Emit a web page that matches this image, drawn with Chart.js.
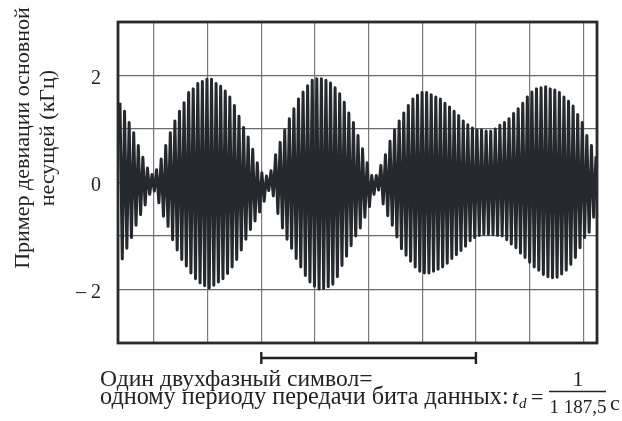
<!DOCTYPE html>
<html>
<head>
<meta charset="utf-8">
<script src="https://cdn.jsdelivr.net/npm/chart.js@4.4.1/dist/chart.umd.min.js"></script>
<style>
  html, body { margin: 0; padding: 0; background: #ffffff; }
  canvas { display: block; }
</style>
</head>
<body>
<canvas id="chart" width="622" height="421"></canvas>
<script>
// Subcarrier deviation, kHz: positive peak of every carrier cycle
const peakDev = [
  1.49, 1.33, 1.12, 0.93, 0.69, 0.47, 0.27, 0.15, 0.24, 0.44, 0.69, 0.93, 1.15, 1.33, 1.49,
  1.68, 1.75, 1.85, 1.89, 1.93, 1.93, 1.85, 1.80, 1.71, 1.60, 1.44, 1.24, 1.03, 0.85, 0.62,
  0.37, 0.18, 0.12, 0.22, 0.52, 0.75, 0.98, 1.19, 1.38, 1.56, 1.69, 1.81, 1.91, 1.94, 1.94,
  1.91, 1.86, 1.77, 1.66, 1.50, 1.30, 1.12, 0.88, 0.63, 0.37, 0.13, 0.13, 0.32, 0.52, 0.77, 0.98,
  1.15, 1.30, 1.44, 1.56, 1.63, 1.68, 1.68, 1.64, 1.60, 1.56, 1.48, 1.41, 1.33, 1.25, 1.15,
  1.08, 1.02, 0.98, 0.98, 0.96, 0.96, 1.00, 1.07, 1.12, 1.19, 1.29, 1.38, 1.48, 1.60,
  1.69, 1.75, 1.77, 1.79, 1.75, 1.73, 1.68, 1.60, 1.52, 1.43, 1.27, 1.12, 0.88, 0.69, 0.49
];

// Negative trough that follows each peak, kHz
const troughDev = [
  -1.43, -1.23, -1.03, -0.80, -0.60, -0.42, -0.22, -0.16, -0.38, -0.63, -0.82, -1.07, -1.26, -1.44, -1.56,
  -1.69, -1.80, -1.88, -1.93, -1.97, -1.92, -1.86, -1.80, -1.70, -1.58, -1.44, -1.26, -1.06, -0.88, -0.72,
  -0.55, -0.35, -0.15, -0.25, -0.58, -0.85, -1.06, -1.23, -1.42, -1.58, -1.74, -1.86, -1.94, -1.99, -1.98,
  -1.95, -1.90, -1.76, -1.55, -1.38, -1.18, -1.00, -0.85, -0.65, -0.45, -0.22, -0.14, -0.40, -0.62, -0.80,
  -1.02, -1.24, -1.36, -1.47, -1.58, -1.66, -1.69, -1.69, -1.66, -1.62, -1.58, -1.51, -1.42, -1.35, -1.27, -1.19,
  -1.09, -1.03, -0.99, -0.97, -0.97, -0.97, -0.99, -1.00, -1.07, -1.15, -1.22, -1.32, -1.40, -1.49, -1.58,
  -1.64, -1.72, -1.76, -1.78, -1.77, -1.71, -1.64, -1.53, -1.40, -1.22, -1.03, -0.93, -0.65
];

// Time axis in quarters of a data bit period (one grid cell each)
const T_START = -0.634;        // time of the first carrier peak
const CARRIER_STEP = 0.08531;  // one carrier cycle
const X_RANGE = [-0.671, 8.257];
const X_GRID = [0, 1, 2, 3, 4, 5, 6, 7, 8];
const BIT_SPAN = [2, 6];       // one biphase symbol = one data bit period

const Y_RANGE = [-3, 3];
const Y_GRID = [-3, -2, -1, 0, 1, 2, 3];
const Y_LABELS = { '2': '2', '0': '0', '-2': '\u2013 2' };

const Y_TITLE = ['Пример девиации основной', 'несущей (кГц)'];
const NOTE = ['Один двухфазный символ=', 'одному периоду передачи бита данных:'];

const SERIF = '"Liberation Serif", "Times New Roman", serif';
const INK = '#222222';

// Zig-zag waveform: peak, trough, peak, trough ...
const wave = [];
peakDev.forEach((p, i) => {
  wave.push({ x: T_START + i * CARRIER_STEP, y: p });
  if (i < troughDev.length) {
    wave.push({ x: T_START + (i + 0.5) * CARRIER_STEP, y: troughDev[i] });
  }
});

const framePlugin = {
  id: 'frame',
  afterDatasetsDraw(chart) {
    const { ctx, chartArea: a } = chart;
    ctx.save();
    ctx.strokeStyle = '#2a2a2a';
    ctx.lineWidth = 2.8;
    ctx.strokeRect(a.left, a.top, a.right - a.left, a.bottom - a.top);
    ctx.restore();
  }
};

const notesPlugin = {
  id: 'notes',
  afterDraw(chart) {
    const { ctx } = chart;
    const xs = chart.scales.x;
    ctx.save();
    ctx.fillStyle = INK;
    ctx.strokeStyle = INK;

    // axis title, two rotated lines
    ctx.font = '22px ' + SERIF;
    ctx.textAlign = 'center';
    ctx.textBaseline = 'alphabetic';
    [[29, Y_TITLE[0]], [54, Y_TITLE[1]]].forEach(([bx, txt]) => {
      ctx.save();
      ctx.translate(bx, 138);
      ctx.rotate(-Math.PI / 2);
      ctx.fillText(txt, 0, 0);
      ctx.restore();
    });

    // bit-period bracket
    const x0 = xs.getPixelForValue(BIT_SPAN[0]);
    const x1 = xs.getPixelForValue(BIT_SPAN[1]);
    const by = 358;
    ctx.lineWidth = 2.4;
    ctx.beginPath();
    ctx.moveTo(x0, by); ctx.lineTo(x1, by);
    ctx.moveTo(x0, by - 6); ctx.lineTo(x0, by + 6);
    ctx.moveTo(x1, by - 6); ctx.lineTo(x1, by + 6);
    ctx.stroke();

    // caption
    ctx.textAlign = 'left';
    ctx.font = '23.6px ' + SERIF;
    ctx.fillText(NOTE[0], 100, 386);
    ctx.font = '24.2px ' + SERIF;
    ctx.fillText(NOTE[1], 100, 404);

    // t_d = 1 / 1 187,5 c
    ctx.font = 'italic 22px ' + SERIF;
    ctx.fillText('t', 512, 404);
    ctx.font = 'italic 15px ' + SERIF;
    ctx.fillText('d', 519, 408);
    ctx.font = '22px ' + SERIF;
    ctx.fillText('=', 531, 404);
    ctx.textAlign = 'center';
    ctx.fillText('1', 578, 386);
    ctx.font = '19px ' + SERIF;
    ctx.fillText('1 187,5', 578, 413);
    ctx.lineWidth = 1.6;
    ctx.beginPath();
    ctx.moveTo(549, 391.5); ctx.lineTo(606, 391.5);
    ctx.stroke();
    ctx.textAlign = 'left';
    ctx.font = '22px ' + SERIF;
    ctx.fillText('с', 610, 410);
    ctx.restore();
  }
};

new Chart(document.getElementById('chart'), {
  type: 'line',
  data: {
    datasets: [{
      data: wave,
      borderColor: '#25292d',
      borderWidth: 3,
      borderJoinStyle: 'round',
      pointRadius: 0,
      tension: 0,
      fill: false
    }]
  },
  options: {
    responsive: false,
    animation: false,
    events: [],
    layout: { padding: { left: 0, top: 22, right: 25, bottom: 78 } },
    plugins: { legend: { display: false }, tooltip: { enabled: false } },
    scales: {
      x: {
        type: 'linear',
        min: X_RANGE[0],
        max: X_RANGE[1],
        afterBuildTicks: s => { s.ticks = X_GRID.map(v => ({ value: v })); },
        afterFit: s => { s.height = 0; s.paddingLeft = 0; s.paddingRight = 0; },
        ticks: { display: false },
        grid: { color: '#7a7a7a', lineWidth: 1.2, drawTicks: false },
        border: { display: false }
      },
      y: {
        type: 'linear',
        min: Y_RANGE[0],
        max: Y_RANGE[1],
        afterBuildTicks: s => { s.ticks = Y_GRID.map(v => ({ value: v })); },
        afterFit: s => { s.width = 118; s.paddingTop = 0; s.paddingBottom = 0; },
        ticks: {
          padding: 17,
          labelOffset: 3,
          color: INK,
          font: { family: SERIF, size: 20 },
          callback: v => Y_LABELS[String(v)] || ''
        },
        grid: { color: '#6a6a6a', lineWidth: 1.2, drawTicks: false },
        border: { display: false }
      }
    }
  },
  plugins: [framePlugin, notesPlugin]
});
</script>
</body>
</html>
